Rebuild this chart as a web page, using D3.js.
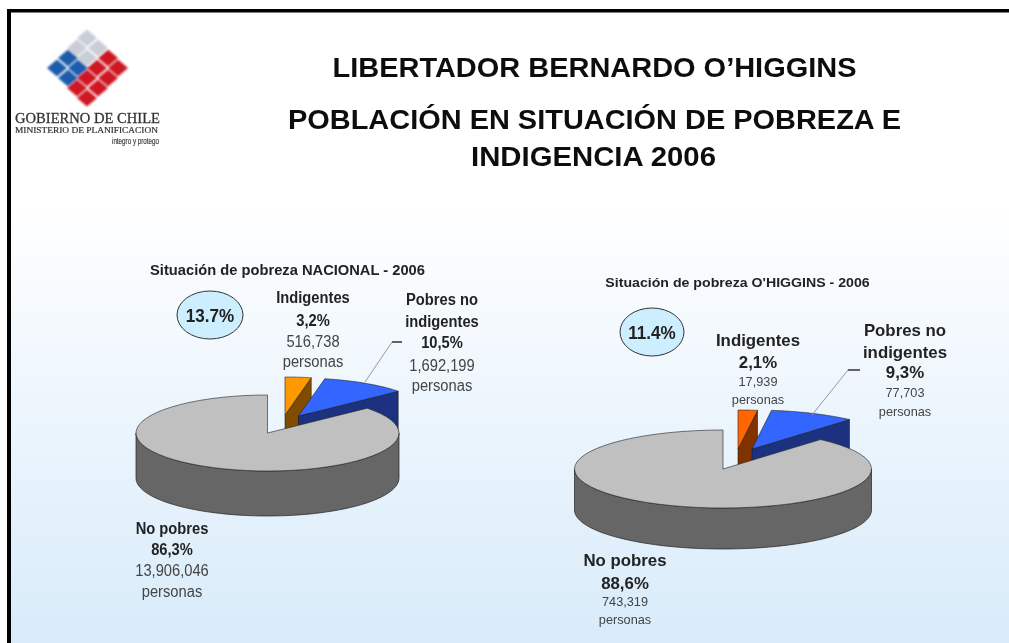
<!DOCTYPE html>
<html><head><meta charset="utf-8">
<script src="https://cdn.jsdelivr.net/npm/d3@7/dist/d3.min.js"></script>
<style>html,body{margin:0;padding:0;background:#fff}svg{display:block}text{font-family:"Liberation Sans",Arial,sans-serif}</style>
</head><body><svg id="c" width="1009" height="643"></svg>
<script>
// ---- data ----
const categories = ["Indigentes", "Pobres no indigentes", "No pobres"];
const nationalPct = [3.2, 10.5, 86.3];
const nationalPeople = ["516,738", "1,692,199", "13,906,046"];
const nationalPctLabels = ["3,2%", "10,5%", "86,3%"];
const nationalTotal = "13.7%";
const regionPct = [2.1, 9.3, 88.6];
const regionPeople = ["17,939", "77,703", "743,319"];
const regionPctLabels = ["2,1%", "9,3%", "88,6%"];
const regionTotal = "11.4%";
const titleLines = ["LIBERTADOR BERNARDO O’HIGGINS", "POBLACIÓN EN SITUACIÓN DE POBREZA E", "INDIGENCIA 2006"];

const svg = d3.select("#c");
const defs = svg.append("defs");
const grad = defs.append("linearGradient").attr("id","bg").attr("x1",0).attr("x2",0).attr("y1",0).attr("y2",1);
[[0,"#ffffff"],[0.3,"#ffffff"],[1,"#d8ebfa"]].forEach(s=>grad.append("stop").attr("offset",s[0]).attr("stop-color",s[1]));
defs.append("filter").attr("id","soft").append("feGaussianBlur").attr("stdDeviation",0.5);
defs.append("filter").attr("id","softer").append("feGaussianBlur").attr("stdDeviation",0.8);
svg.append("rect").attr("x",11).attr("y",12).attr("width",998).attr("height",631).attr("fill","url(#bg)");
svg.append("rect").attr("x",7).attr("y",9).attr("width",1002).attr("height",3.5).attr("fill","#000");
svg.append("rect").attr("x",7).attr("y",9).attr("width",4).attr("height",634).attr("fill","#000");
const root = svg.append("g").attr("filter","url(#soft)");

// ---- titles ----
const titleY = [[594.5,77,524],[594.5,129,613],[593.5,166,245]];
titleLines.forEach((t,i)=>root.append("text").text(t).attr("x",titleY[i][0]).attr("y",titleY[i][1])
  .attr("text-anchor","middle").attr("font-weight","bold").attr("font-size",27).attr("fill","#111")
  .attr("textLength",titleY[i][2]).attr("lengthAdjust","spacingAndGlyphs"));

// ---- logo ----
const logo = svg.append("g");
const emblem = logo.append("g").attr("filter","url(#softer)");
const cells = [
 ["#c9ced6",[[87,38],[77,48],[98,48],[87,58]]],
 ["#1b5cab",[[68,58],[57,68],[78,68],[68,78]]],
 ["#cf1524",[[108,58],[97,68],[118,68],[108,78],[87,78],[77,88],[98,88],[87,98]]]];
cells.forEach(([col,pts])=>pts.forEach(([x,y])=>{
  emblem.append("path").attr("fill",col).attr("d",`M${x-10},${y}L${x},${y-8.5}L${x+10},${y}L${x},${y+8.5}Z`);
}));
[["GOBIERNO DE CHILE",15,123,15.5,145,"start","Liberation Serif",0.3],
 ["MINISTERIO DE PLANIFICACION",15,133,8.5,143,"start","Liberation Serif",0.2],
 ["integro y protego",159,144,9,47,"end","Liberation Sans",0.15]]
 .forEach(([t,x,y,fs,w,a,f,sw])=>logo.append("text").text(t).attr("x",x).attr("y",y).attr("font-size",fs)
  .attr("text-anchor",a).attr("fill","#333").attr("stroke","#333").attr("stroke-width",sw)
  .attr("textLength",w).attr("lengthAdjust","spacingAndGlyphs").attr("filter","url(#soft)")
  .style("font-family",`"${f}"`));

// ---- pies ----
const pie = d3.pie().sort(null).startAngle(0).endAngle(2*Math.PI);
const line = d3.line();
function pie3d(cfg){
  const arcs = pie(cfg.values);
  const P=(a,o,d=0)=>[cfg.cx+o[0]+cfg.rx*Math.sin(a), cfg.cy+o[1]-cfg.ry*Math.cos(a)+d];
  const samples=(a0,a1)=>d3.range(0,61).map(i=>a0+(a1-a0)*i/60);
  arcs.forEach((a,i)=>{
    const o=cfg.offsets[i], c=[cfg.cx+o[0],cfg.cy+o[1]];
    if(i<2){
      const e=P(a.endAngle,o), d=cfg.depth;
      root.append("path").attr("d",line([c,e,[e[0],e[1]+d],[c[0],c[1]+d]])+"Z")
        .attr("fill",cfg.walls[i]).attr("stroke","#111").attr("stroke-width",0.5);
    }
    const w0=Math.max(a.startAngle,Math.PI/2), w1=Math.min(a.endAngle,1.5*Math.PI);
    if(w1>w0){
      const top=samples(w0,w1).map(t=>P(t,o)), bot=samples(w1,w0).map(t=>P(t,o,cfg.depth));
      root.append("path").attr("d",line(top.concat(bot))+"Z").attr("fill",cfg.walls[i]).attr("stroke","#222").attr("stroke-width",0.7);
    }
    root.append("path").attr("d",line([c].concat(samples(a.startAngle,a.endAngle).map(t=>P(t,o))))+"Z")
      .attr("fill",cfg.tops[i]).attr("stroke","#222").attr("stroke-width",0.6);
  });
}
function T(txt,x,y,fs,sx,bold,fill){
  root.append("text").text(txt).attr("transform",`translate(${x},${y}) scale(${sx},1)`)
    .attr("text-anchor","middle").attr("font-size",fs).attr("font-weight",bold?"bold":"normal").attr("fill",fill);
}
function panel(p){
  pie3d(p);
  root.append("ellipse").attr("cx",p.bubble[0]).attr("cy",p.bubble[1]).attr("rx",p.bubble[2]).attr("ry",24)
    .attr("fill","#cceeff").attr("stroke","#333").attr("stroke-width",1);
  T(p.total,p.bubble[0],p.bubble[1]+6.5,18,0.95,true,"#222");
  T(p.title,p.titlePos[0],p.titlePos[1],p.titlePos[2],p.titlePos[3],true,"#222");
  root.append("path").attr("d",line(p.leader)).attr("fill","none").attr("stroke","#999").attr("stroke-width",1);
  root.append("path").attr("d",line(p.leader.slice(1))).attr("fill","none").attr("stroke","#222").attr("stroke-width",1.2);
  p.labels.forEach((l,i)=>{
    const names = i===1 ? ["Pobres no","indigentes"] : [categories[i]];
    const rows = names.map(n=>[n,true]).concat([[p.pctLabels[i],true],[p.people[i],false],["personas",false]]);
    rows.forEach((r,k)=>T(r[0],l.x,l.y[k],r[1]?p.fsB:p.fsN,p.sx,r[1],r[1]?"#222":"#444"));
  });
}
panel({values:nationalPct,cx:267.5,cy:433,rx:131.5,ry:38,depth:45,
  offsets:[[17.5,-18],[31,-17],[0,0]],
  tops:["#ff9900","#3366ff","#c0c0c0"],walls:["#804d00","#1a3380","#666666"],
  bubble:[210,315,33],total:nationalTotal,title:"Situación de pobreza NACIONAL - 2006",titlePos:[287.5,275,15,0.98],
  leader:[[365,382],[392,342],[402,342]],
  pctLabels:nationalPctLabels,people:nationalPeople,fsB:16,fsN:16,sx:0.92,
  labels:[{x:313,y:[303,326,347,367]},{x:442,y:[305,327,348,371,391]},{x:172,y:[534,555,576,597]}]});
panel({values:regionPct,cx:723,cy:469,rx:148.5,ry:39,depth:41,
  offsets:[[15,-20],[29,-20],[0,0]],
  tops:["#ff6600","#3366ff","#c0c0c0"],walls:["#803300","#1a3380","#666666"],
  bubble:[652,332,32],total:regionTotal,title:"Situación de pobreza O'HIGGINS - 2006",titlePos:[737.5,287,13,1.09],
  leader:[[812,415],[848,370],[860,370]],
  pctLabels:regionPctLabels,people:regionPeople,fsB:16.5,fsN:12.5,sx:1.02,
  labels:[{x:758,y:[346,368,386,404]},{x:905,y:[336,358,378,397,416]},{x:625,y:[566,589,606,624]}]});
</script></body></html>
